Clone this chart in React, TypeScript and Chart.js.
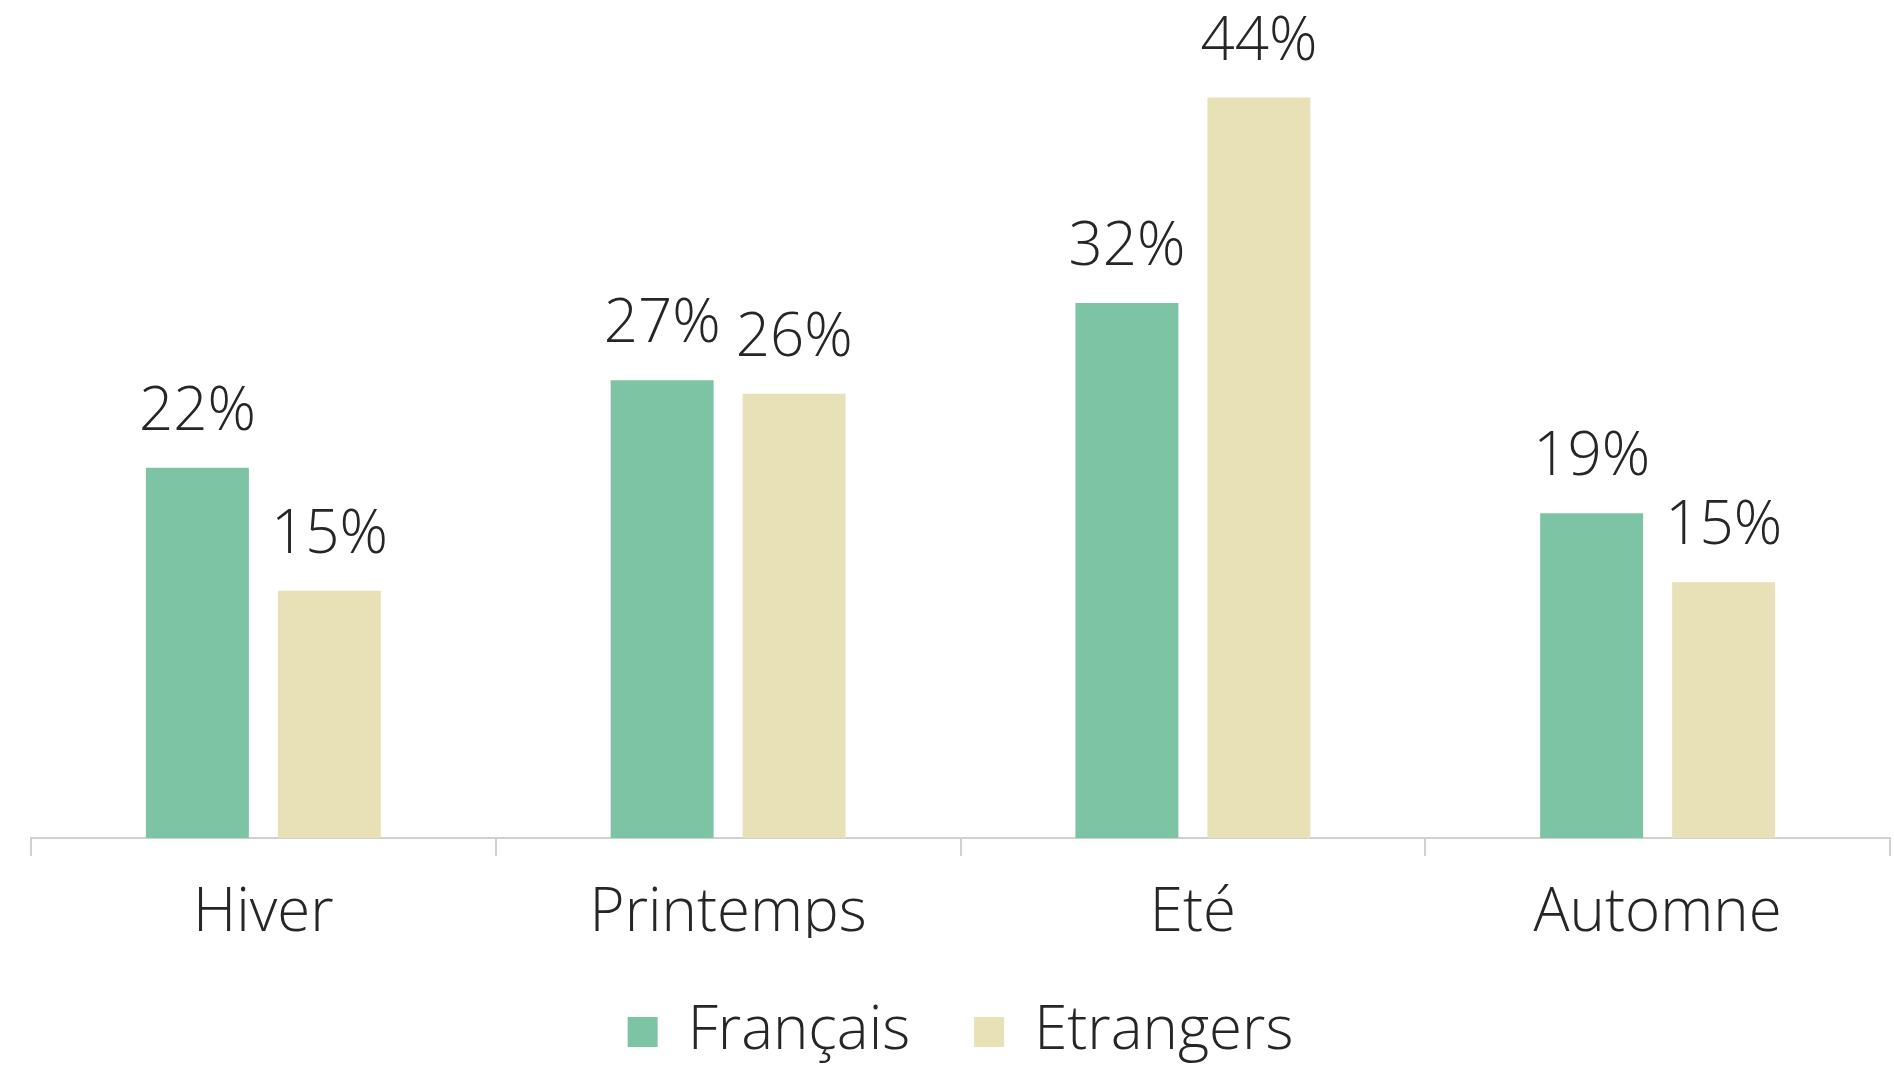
import React, { useEffect, useRef } from "react";
import { Chart, registerables } from "chart.js";

Chart.register(...registerables);

const categories = ["Hiver", "Printemps", "Eté", "Automne"];
const francais = [22.0, 27.2, 31.8, 19.3];
const etrangers = [14.7, 26.4, 44.0, 15.2];
const seriesNames = ["Français", "Etrangers"];
const seriesColors = ["#7DC4A5", "#E8E0B6"];

const FONT_FAMILY = "'Open Sans', 'Noto Sans', sans-serif";
const TEXT_COLOR = "#262626";

const dataLabelPlugin = {
  id: "dataLabels",
  afterDatasetsDraw(chart: any) {
    const ctx = chart.ctx;
    ctx.save();
    ctx.font = `300 60px ${FONT_FAMILY}`;
    ctx.fillStyle = TEXT_COLOR;
    ctx.textAlign = "center";
    ctx.textBaseline = "alphabetic";
    chart.data.datasets.forEach((ds: any, di: number) => {
      const meta = chart.getDatasetMeta(di);
      meta.data.forEach((bar: any, i: number) => {
        const v = ds.data[i] as number;
        ctx.fillText(`${Math.round(v)}%`, bar.x, bar.y - 38);
      });
    });
    ctx.restore();
  },
};

export default function App() {
  const canvasRef = useRef<HTMLCanvasElement | null>(null);

  useEffect(() => {
    if (!canvasRef.current) return;
    const chart = new Chart(canvasRef.current, {
      type: "bar",
      data: {
        labels: categories,
        datasets: [
          {
            label: seriesNames[0],
            data: francais,
            backgroundColor: seriesColors[0],
            barPercentage: 0.78,
            categoryPercentage: 0.568,
          },
          {
            label: seriesNames[1],
            data: etrangers,
            backgroundColor: seriesColors[1],
            barPercentage: 0.78,
            categoryPercentage: 0.568,
          },
        ],
      },
      options: {
        responsive: false,
        animation: false,
        layout: { padding: { left: 31, right: 4, top: 0, bottom: 0 } },
        plugins: {
          tooltip: { enabled: false },
          legend: {
            position: "bottom",
            maxHeight: 128,
            labels: {
              boxWidth: 30,
              boxHeight: 30,
              padding: 64,
              color: TEXT_COLOR,
              font: { family: FONT_FAMILY, size: 60, weight: "300" as any },
            },
          },
        },
        scales: {
          x: {
            offset: true,
            border: { display: true, color: "#d0d0d0", width: 2 },
            grid: {
              display: true,
              offset: true,
              drawOnChartArea: false,
              drawTicks: true,
              tickLength: 18,
              color: "#d0d0d0",
              lineWidth: 2,
            },
            ticks: {
              padding: 22,
              color: TEXT_COLOR,
              maxRotation: 0,
              font: { family: FONT_FAMILY, size: 60, weight: "300" as any },
            },
            afterFit: (scale: any) => {
              scale.height = 100;
            },
          },
          y: {
            display: false,
            min: 0,
            max: 49.8,
          },
        },
      },
      plugins: [dataLabelPlugin],
    });
    return () => chart.destroy();
  }, []);

  return (
    <div style={{ position: "fixed", left: 0, top: 0, width: 1894, height: 1066, background: "#fff" }}>
      <canvas ref={canvasRef} width={1894} height={1066} style={{ display: "block" }} />
    </div>
  );
}
